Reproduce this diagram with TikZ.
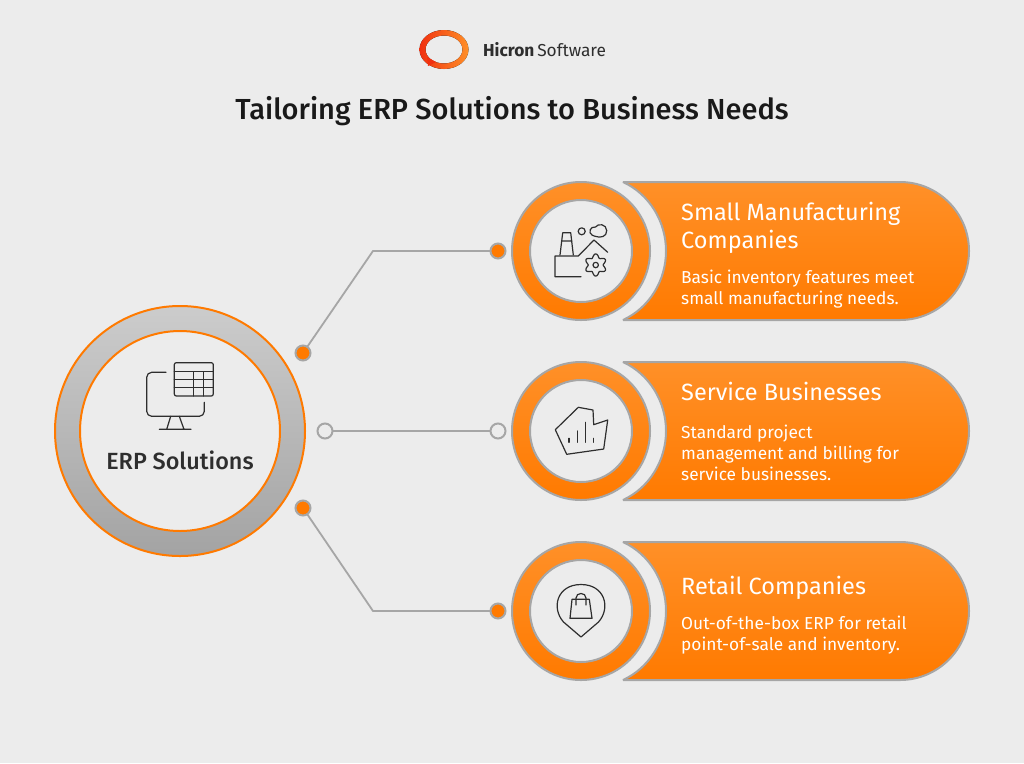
\documentclass[tikz,border=0pt]{standalone}
\usepackage{fontspec}
\setmainfont{Fira Sans}
\newfontfamily\midfont{Fira Sans Medium}
\usetikzlibrary{calc,positioning}
\definecolor{pagegray}{HTML}{ECECEC}
\definecolor{edgegray}{HTML}{A6A6A6}
\definecolor{inkgray}{HTML}{2E2E2E}
\definecolor{hiorange}{HTML}{FF9028}
\definecolor{loorange}{HTML}{FF7A00}
\definecolor{logored}{HTML}{F0300F}
\tikzset{
	ringbig/.style={circle, minimum size=250pt, inner sep=0pt, outer sep=0pt, draw=loorange, line width=2pt, top color=black!20, bottom color=black!36},
	holebig/.style={circle, minimum size=200pt, inner sep=0pt, outer sep=0pt, draw=loorange, line width=2pt, fill=pagegray},
	ringsmall/.style={circle, minimum size=138pt, inner sep=0pt, outer sep=0pt, draw=edgegray, line width=2pt, top color=hiorange, bottom color=loorange},
	holesmall/.style={circle, minimum size=102pt, inner sep=0pt, outer sep=0pt, draw=edgegray, line width=2pt, fill=pagegray},
	dotfull/.style={circle, minimum size=15pt, inner sep=0pt, outer sep=0pt, draw=edgegray, line width=2pt, fill=loorange},
	dotopen/.style={circle, minimum size=15pt, inner sep=0pt, outer sep=0pt, draw=edgegray, line width=2pt, fill=pagegray},
	link/.style={draw=edgegray, line width=1.8pt},
	banner/.style={draw=edgegray, line width=2pt, line join=bevel, top color=hiorange, bottom color=loorange},
	head/.style={anchor=west, inner sep=0pt, text=white, align=left, font=\fontsize{23.5}{28}\selectfont},
	body/.style={anchor=west, inner sep=0pt, text=white, align=left, font=\fontsize{17.3}{21}\selectfont},
	glyph/.style={draw=inkgray, line width=1.2pt, line join=round, line cap=round},
}
\begin{document}
\begin{tikzpicture}[x=1pt, y=-1pt]
	\useasboundingbox[fill=pagegray] (0,0) rectangle (1024,763);

	\fill[left color=logored, middle color=orange!70!red, right color=hiorange, even odd rule]
		(444,49.5) ellipse [x radius=24.5, y radius=19.5]
		(444,49.5) ellipse [x radius=18.5, y radius=14];
	\fill[logored] (427,57) -- (436,62) -- (428,66) -- cycle;
	\node[anchor=west, inner sep=0pt, font=\fontsize{17.3}{20}\selectfont, text=inkgray] (logotext) at (483,49.5) {\textbf{Hicron}\,Software};
	\node[inner sep=0pt, font=\midfont\fontsize{29}{32}\selectfont, text=black!90] (title) at (512,111.5) {Tailoring ERP Solutions to Business Needs};

	\foreach \name/\cy in {one/251, two/431, three/611} {
		\path[banner] (623,\cy-69) .. controls (649,\cy-57) and (666,\cy-30) .. (666,\cy)
			.. controls (666,\cy+30) and (649,\cy+57) .. (623,\cy+69)
			-- (900,\cy+69) .. controls (938,\cy+69) and (969,\cy+38) .. (969,\cy)
			.. controls (969,\cy-38) and (938,\cy-69) .. (900,\cy-69) -- cycle;
		\node[ringsmall] (ring\name) at (581,\cy) {};
		\node[holesmall] (hole\name) at (581,\cy) {};
	}

	\node[ringbig] (erpring) at (180,431) {};
	\node[holebig] (erphole) at (180,431) {};
	\node[font=\midfont\fontsize{23.4}{26}\selectfont, text=inkgray, inner sep=0pt] (erplabel) at (180,460.5) {ERP Solutions};

	\node[dotfull] (dotA) at (303,353) {};
	\node[dotopen] (dotB) at (325,431) {};
	\node[dotfull] (dotC) at (303,508) {};
	\node[dotfull] (endA) at (498,251) {};
	\node[dotopen] (endB) at (498,431) {};
	\node[dotfull] (endC) at (498,611) {};
	\coordinate (bendA) at (373,251);
	\coordinate (bendC) at (373,611);
	\draw[link] (dotA) -- (bendA) -- (endA);
	\draw[link] (dotB) -- (endB);
	\draw[link] (dotC) -- (bendC) -- (endC);

	\node[head] (headA) at (681,228) {Small Manufacturing\\Companies};
	\node[body] (bodyA) at (681,289) {Basic inventory features meet\\small manufacturing needs.};
	\node[head] (headB) at (681,391) {Service Businesses};
	\node[body] (bodyB) at (681,453) {Standard project\\management and billing for\\service businesses.};
	\node[head] (headC) at (681,588) {Retail Companies};
	\node[body] (bodyC) at (681,635) {Out-of-the-box ERP for retail\\point-of-sale and inventory.};

	\draw[glyph, rounded corners=2pt] (174.3,362.7) rectangle (213.3,396);
	\draw[glyph] (174.3,371.7) -- (213.3,371.7) (174.3,379.3) -- (213.3,379.3) (174.3,387.3) -- (213.3,387.3);
	\draw[glyph] (193.7,371.7) -- (193.7,396) (203.3,371.7) -- (203.3,396);
	\draw[glyph, rounded corners=5pt] (166,372.3) -- (146.7,372.3) -- (146.7,416.3) -- (204.3,416.3) -- (204.3,402.3);
	\draw[glyph] (170.7,416.3) -- (166.7,429.3) (179.3,416.3) -- (184,429.3) (159.3,429.3) -- (191,429.3);

	\draw[glyph] (560,255) -- (562.7,232.7) -- (570.7,232.7) -- (573.3,255) (561.5,241) -- (572,241);
	\draw[glyph] (581,276.7) -- (555,276.7) -- (555,256) -- (578.3,256) -- (594,240) -- (607.7,252.3);
	\draw[glyph] plot[domain=0:360, samples=73, smooth] ({595.7+(9.3-1.8*cos(6*\x))*cos(\x)}, {265+(9.3-1.8*cos(6*\x))*sin(\x)});
	\draw[glyph] (595.7,265) circle [radius=2.7];
	\draw[glyph] (581.7,231.3) circle [radius=3.5];
	\draw[glyph] (596,236.5) .. controls (600,238) and (607,237) .. (606.7,230.5)
		.. controls (606.5,224) and (598,223) .. (595.5,227)
		.. controls (590,226) and (588,233) .. (592,235) .. controls (593,236) and (595,236) .. (596,236.5) -- cycle;

	\draw[glyph] (555.3,429.7) -- (578.3,407.3) -- (593,410) -- (593.7,424.7) -- (607.7,420) -- (603.7,449) -- (566.7,454.3) -- cycle;
	\draw[glyph] (569,438.3) -- (569,442.3) (577.3,431) -- (577.3,442.3) (585.3,422.3) -- (585.3,442.3) (593.3,438.3) -- (593.3,442.3);

	\draw[glyph] (581,637) -- (563.5,622) .. controls (551,608) and (557,584.5) .. (581,584.5)
		.. controls (605,584.5) and (611,608) .. (598.5,622) -- cycle;
	\draw[glyph] (572,599.3) -- (589.3,599.3) -- (592,618.3) -- (570,618.3) -- cycle;
	\draw[glyph] (576,605) -- (576,598) .. controls (576,592) and (586,592) .. (586,598) -- (586,605);
\end{tikzpicture}
\end{document}
